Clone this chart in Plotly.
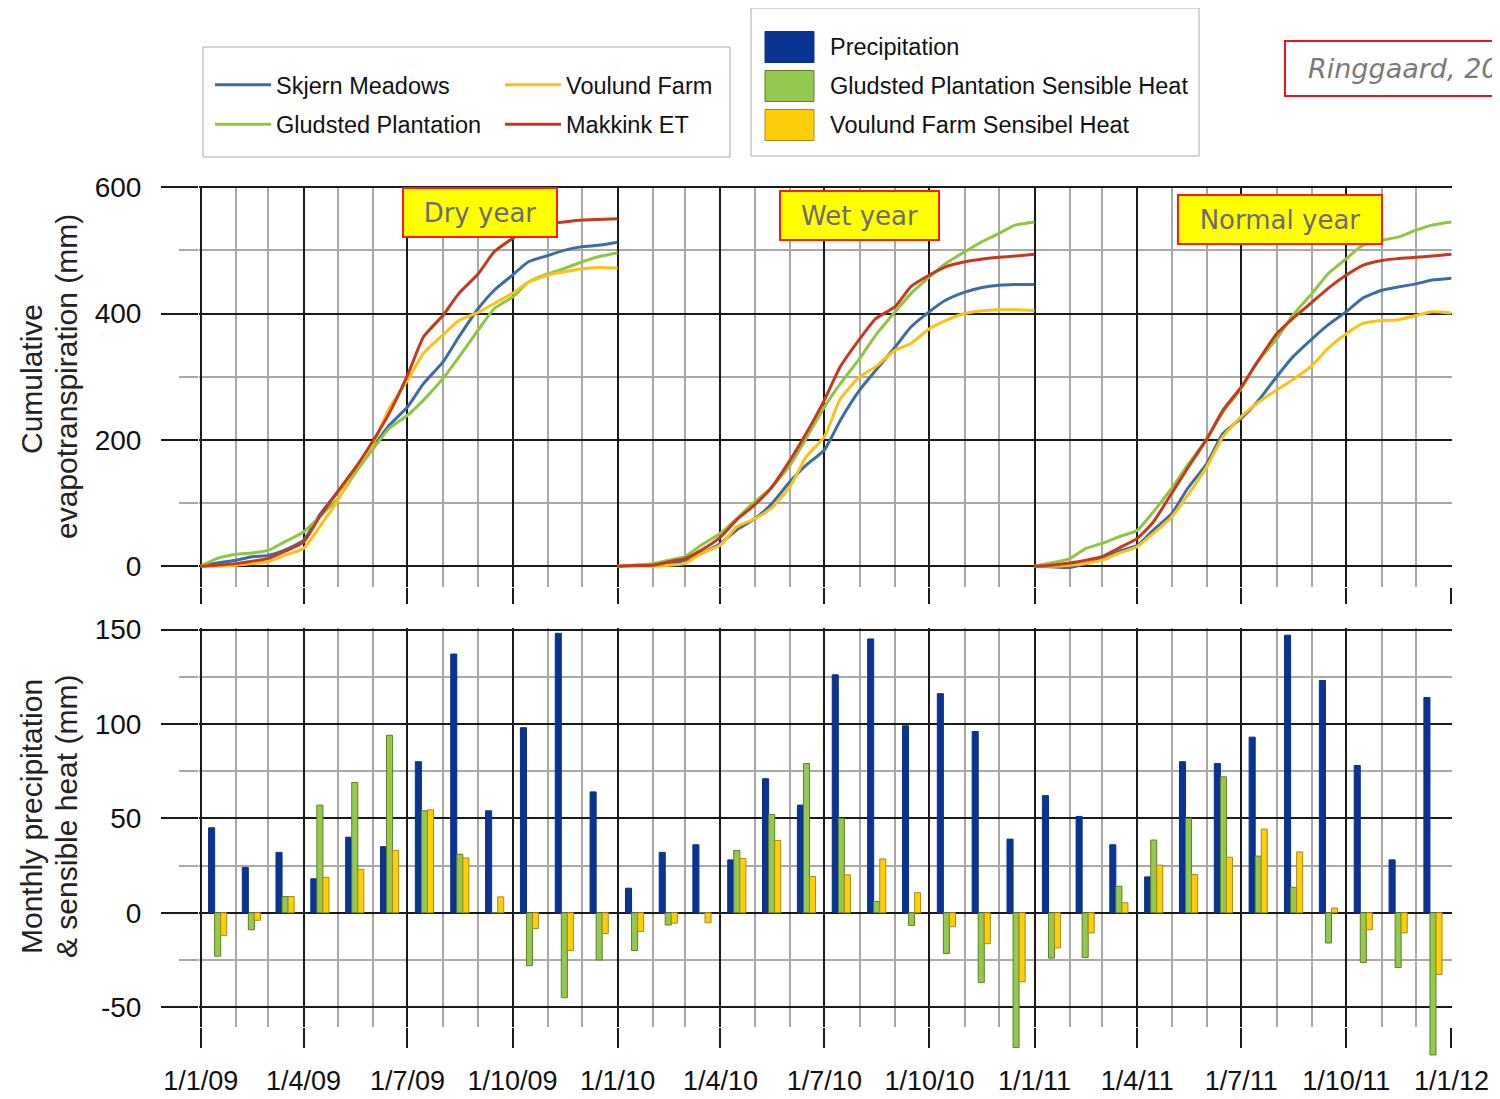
import datetime as dt
import pandas as pd
import plotly.graph_objects as go

# ---------------- data ----------------
years = [2009, 2010, 2011]

# cumulative ET (mm) on the 1st and 15th of each month, plus 1 Jan of the next year
skjern_2009 = [0, 5, 9.5, 15, 17, 25, 41, 81, 118, 152, 189, 223, 252, 289, 323, 363, 408, 437, 461, 482, 492, 500, 506, 508, 513]
skjern_2010 = [0, 1, 2, 3, 9.5, 20, 36, 57, 75, 97, 134, 160, 184, 231, 279, 310, 347, 379, 403, 421, 434, 441, 445, 446, 446]
skjern_2011 = [0, -1, -2, 4, 12, 23, 33, 57, 83, 123, 163, 210, 234, 260, 300, 331, 360, 382, 403, 424, 437, 442, 447, 453, 456]

gludsted_2009 = [0, 12, 19, 21, 25, 38, 54, 78, 107, 144, 186, 218, 239, 263, 297, 331, 374, 408, 426, 450, 463, 471, 482, 490, 496]
gludsted_2010 = [0, 1.6, 4, 9.5, 15, 33, 52, 75, 102, 123, 160, 202, 252, 289, 329, 366, 403, 432, 458, 479, 498, 513, 527, 540, 545]
gludsted_2011 = [0, 5, 12, 28, 36, 46, 57, 86, 123, 160, 202, 244, 281, 323, 360, 397, 432, 463, 487, 508, 516, 521, 532, 540, 545]

voulund_2009 = [0, 0, 1.6, 4, 7, 17, 28, 62, 104, 152, 194, 250, 294, 337, 366, 389, 402, 416, 432, 450, 461, 466, 471, 473, 472]
voulund_2010 = [0, 0, 0, 1.6, 4, 20, 33, 62, 75, 91, 126, 173, 205, 265, 300, 316, 342, 353, 376, 389, 400, 404, 406, 406, 405]
voulund_2011 = [0, 0, 1.6, 4, 9.5, 20, 31, 52, 78, 112, 158, 205, 237, 258, 279, 295, 318, 345, 368, 384, 389, 390, 397, 403, 401]

makkink_2009 = [0, 1.6, 4, 8, 12, 23, 38, 78, 118, 152, 199, 242, 302, 363, 397, 432, 463, 498, 519, 535, 542, 545, 548, 549, 550]
makkink_2010 = [0, 1, 1.6, 7, 12, 25, 46, 73, 97, 123, 168, 210, 263, 316, 360, 392, 411, 443, 461, 474, 482, 486, 489, 491, 494]
makkink_2011 = [0, 1.6, 5, 9.5, 15, 28, 44, 70, 115, 155, 202, 247, 284, 323, 368, 392, 418, 440, 461, 476, 484, 487, 489, 491, 494]

# monthly values Jan 2009 .. Dec 2011 (mm)
months = pd.date_range("2009-01-01", periods=36, freq="MS")
precipitation = [45, 24, 32, 18, 40, 35, 80, 137, 54, 98, 148, 64,
                 13, 32, 36, 28, 71, 57, 126, 145, 99, 116, 96, 39,
                 62, 51, 36, 19, 80, 79, 93, 147, 123, 78, 28, 114]
gludsted_sensible = [-23, -9, 8.6, 57, 69, 94, 54, 31, 0, -28, -45, -25,
                     -20, -6.5, 0, 33, 52, 79, 50, 6, -6.7, -21.6, -37, -71.4,
                     -24, -23.7, 14, 38.5, 50, 72, 30, 13.5, -16, -26.4, -29, -75.3]
voulund_sensible = [-12, -4, 8.6, 18.8, 23, 33, 54.5, 29, 8.4, -8.4, -20, -11,
                    -10, -5.5, -5.3, 28.7, 38.3, 19.2, 20.1, 28.5, 10.6, -7.4, -16.4, -36.6,
                    -18.6, -10.7, 5.3, 25.2, 20.2, 29.4, 44.3, 32.2, 2.5, -9, -10.7, -32.7]

et_ticks = [0, 200, 400, 600]
bar_ticks = [-50, 0, 50, 100, 150]
bar_tick_text = ["-50", "0", "50", "100", "150"]

year_labels = ["Dry year", "Wet year", "Normal year"]
citation = "Ringgaard, 2012"

# ---------------- helpers ----------------
def half_month_dates(year):
    d = [dt.date(year, m, day) for m in range(1, 13) for day in (1, 15)]
    return d + [dt.date(year + 1, 1, 1)]

def join_years(series):
    xs, ys = [], []
    for yr, vals in zip(years, series):
        xs += half_month_dates(yr) + [None]
        ys += list(vals) + [None]
    return xs, ys

next_months = list(months[1:]) + [pd.Timestamp("2012-01-01")]
mid_months = [a + (b - a) / 2 for a, b in zip(months, next_months)]

# ---------------- styles ----------------
C_SKJ = "#3A6DA6"
C_GLU = "#8DC63F"
C_VOU = "#FDC113"
C_MAK = "#C53A1C"
C_PRE = "#0A3493"
C_GBAR = "#95C84E"
C_YBAR = "#FFCE0A"
GRID_MAJ = "#1a1a1a"
GRID_MIN = "#a8a8a8"
DAY = 86400000.0

SANS = "Liberation Sans, Arial, sans-serif"
LEG_FONT = dict(family=SANS, size=23.5, color="#111111")
TICK_FONT = dict(family=SANS, size=28, color="#111111")
TITLE_FONT = dict(family=SANS, size=30, color="#222222")

# The page is shown with the browser's default 8px body margin, so the figure is 8px smaller
OFF = 8
W, H = 1500 - OFF, 1099 - OFF
ML, MR, MT, MB = 191, 48, 178, 30
PW, PH = W - ML - MR, H - MT - MB

def px(x_ref):  # reference-picture pixel -> paper x
    return (x_ref - OFF - ML) / PW

def py(y_ref):  # reference-picture pixel -> paper y
    return (H - MB - (y_ref - OFF)) / PH

fig = go.Figure()

line_specs = [
    ("Skjern Meadows", C_SKJ, [skjern_2009, skjern_2010, skjern_2011], "legend"),
    ("Gludsted Plantation", C_GLU, [gludsted_2009, gludsted_2010, gludsted_2011], "legend"),
    ("Voulund Farm", C_VOU, [voulund_2009, voulund_2010, voulund_2011], "legend3"),
    ("Makkink ET", C_MAK, [makkink_2009, makkink_2010, makkink_2011], "legend3"),
]
for name, color, series, leg in line_specs:
    xs, ys = join_years(series)
    fig.add_trace(go.Scatter(x=xs, y=ys, mode="lines", name=name, legend=leg, legendgroup=name,
                             line=dict(color=color, width=3, shape="spline", smoothing=0.5),
                             connectgaps=False, xaxis="x", yaxis="y"))

# empty trace so that the gridded lower panel (x2/y2) is created
fig.add_trace(go.Scatter(x=[], y=[], mode="lines", showlegend=False, hoverinfo="skip",
                         xaxis="x2", yaxis="y2"))

bar_specs = [
    ("Precipitation", precipitation, C_PRE, "#0A2F86", -8.6),
    ("Gludsted Plantation Sensible Heat", gludsted_sensible, C_GBAR, "#5E7F22", -3.3),
    ("Voulund Farm Sensibel Heat", voulund_sensible, C_YBAR, "#A58A1A", 2.0),
]
for name, vals, color, lcol, off in bar_specs:
    fig.add_trace(go.Bar(x=mid_months, y=vals, name=name, showlegend=False,
                         width=5.3 * DAY, offset=off * DAY,
                         marker=dict(color=color, line=dict(color=lcol, width=1)),
                         xaxis="x3", yaxis="y3"))

x_range = ["2008-12-30 12:00", "2012-01-01 12:00"]
top_dom = [py(587), 1.0]
bot_dom = [py(1027), py(628)]
bar_dom = [py(1064), py(628)]
y2_range = [-60.5, 150.8]
scale2 = (y2_range[1] - y2_range[0]) / (1027 - 628)      # units per pixel
y3_range = [y2_range[1] - (1064 - 628) * scale2, y2_range[1]]

common_x = dict(type="date", range=x_range, dtick="M3", tick0="2009-01-01",
                showgrid=True, gridcolor=GRID_MAJ, gridwidth=2,
                ticks="outside", tickcolor=GRID_MAJ, tickwidth=2,
                minor=dict(dtick="M1", tick0="2009-01-01", showgrid=True,
                           gridcolor=GRID_MIN, gridwidth=2, ticks=""),
                showline=False, zeroline=False, fixedrange=True)

common_y = dict(showgrid=True, gridcolor=GRID_MAJ, gridwidth=2, zeroline=False,
                ticks="outside", ticklen=37, tickcolor=GRID_MAJ, tickwidth=2,
                tickfont=TICK_FONT, ticklabelstandoff=14, fixedrange=True)

leg_common = dict(xanchor="left", yanchor="top", orientation="v",
                  bgcolor="rgba(0,0,0,0)", borderwidth=0, font=LEG_FONT,
                  itemwidth=56, tracegroupgap=6, traceorder="grouped")

fig.update_layout(
    width=W, height=H,
    margin=dict(l=ML, r=MR, t=MT, b=MB, autoexpand=False),
    paper_bgcolor="white", plot_bgcolor="rgba(0,0,0,0)",
    barmode="overlay",
    xaxis=dict(common_x, anchor="y", domain=[0, 1], showticklabels=False, ticklen=16),
    xaxis2=dict(common_x, anchor="y2", domain=[0, 1], showticklabels=True, ticklen=20,
                tickformat="%-d/%-m/%y", tickfont=dict(family=SANS, size=27, color="#111111"),
                ticklabelstandoff=10, matches="x"),
    xaxis3=dict(type="date", range=x_range, anchor="y3", domain=[0, 1], visible=False,
                showgrid=False, matches="x", fixedrange=True),
    yaxis=dict(common_y, domain=top_dom, range=[-33, 602], tickmode="array", tickvals=et_ticks,
               minor=dict(dtick=100, tick0=0, showgrid=True, gridcolor=GRID_MIN, gridwidth=2,
                          ticks="outside", ticklen=19, tickcolor=GRID_MIN, tickwidth=2)),
    yaxis2=dict(common_y, domain=bot_dom, range=y2_range, tickmode="array",
                tickvals=bar_ticks, ticktext=bar_tick_text,
                minor=dict(dtick=25, tick0=0, showgrid=True, gridcolor=GRID_MIN, gridwidth=2,
                           ticks="outside", ticklen=19, tickcolor=GRID_MIN, tickwidth=2)),
    yaxis3=dict(domain=bar_dom, range=y3_range, visible=False, showgrid=False,
                zeroline=False, fixedrange=True),
    legend=dict(leg_common, x=px(210), y=py(63)),
    legend3=dict(leg_common, x=px(500), y=py(63)),
    showlegend=True,
)

# y-axis titles
for text, cx, cy in [("Cumulative", 31, 379), ("evapotranspiration (mm)", 66, 377),
                     ("Monthly precipitation", 31, 817), ("& sensible heat (mm)", 66, 817)]:
    fig.add_annotation(xref="paper", yref="paper", x=px(cx), y=py(cy), xanchor="center", yanchor="middle",
                       text=text, textangle=-90, showarrow=False, font=TITLE_FONT)

# box around the line legend
fig.add_shape(type="rect", xref="paper", yref="paper",
              x0=px(203), x1=px(730), y0=py(157), y1=py(47),
              line=dict(color="#aaaaaa", width=1), fillcolor="white", layer="below")

# bar legend (box, swatches, labels)
fig.add_shape(type="rect", xref="paper", yref="paper",
              x0=px(751), x1=px(1199), y0=py(156), y1=py(8),
              line=dict(color="#aaaaaa", width=1), fillcolor="white", layer="below")
for (name, vals, color, lcol, off), cy in zip(bar_specs, [47, 86, 125]):
    fig.add_shape(type="rect", xref="paper", yref="paper",
                  x0=px(765), x1=px(814), y0=py(cy + 15.5), y1=py(cy - 15.5),
                  line=dict(color=lcol, width=1), fillcolor=color)
    fig.add_annotation(xref="paper", yref="paper", x=px(828), y=py(cy), xanchor="left", yanchor="middle",
                       text=name, showarrow=False, font=LEG_FONT)

# citation box (runs off the right edge, as in the original slide)
fig.add_shape(type="rect", xref="paper", yref="paper",
              x0=px(1285), x1=px(1560), y0=py(96), y1=py(41),
              line=dict(color="#E8141B", width=2), fillcolor="white")
fig.add_annotation(xref="paper", yref="paper", x=px(1306), y=py(69), xanchor="left", yanchor="middle",
                   text="<i>" + citation + "</i>", showarrow=False,
                   font=dict(family="DejaVu Sans, Verdana", size=27, color="#7a7a7a"))

# year labels
for label, cx, cy, w in zip(year_labels, [480, 859.5, 1280], [212.5, 215.5, 219.5], [148, 153, 198]):
    fig.add_annotation(xref="paper", yref="paper", x=px(cx), y=py(cy), xanchor="center", yanchor="middle",
                       text=label, showarrow=False, width=w, height=43,
                       bgcolor="#FFFF00", bordercolor="#FF1A1A", borderwidth=2, borderpad=2,
                       font=dict(family="DejaVu Sans, Verdana", size=26, color="#6B6B78"))

fig.write_html("out.html")
